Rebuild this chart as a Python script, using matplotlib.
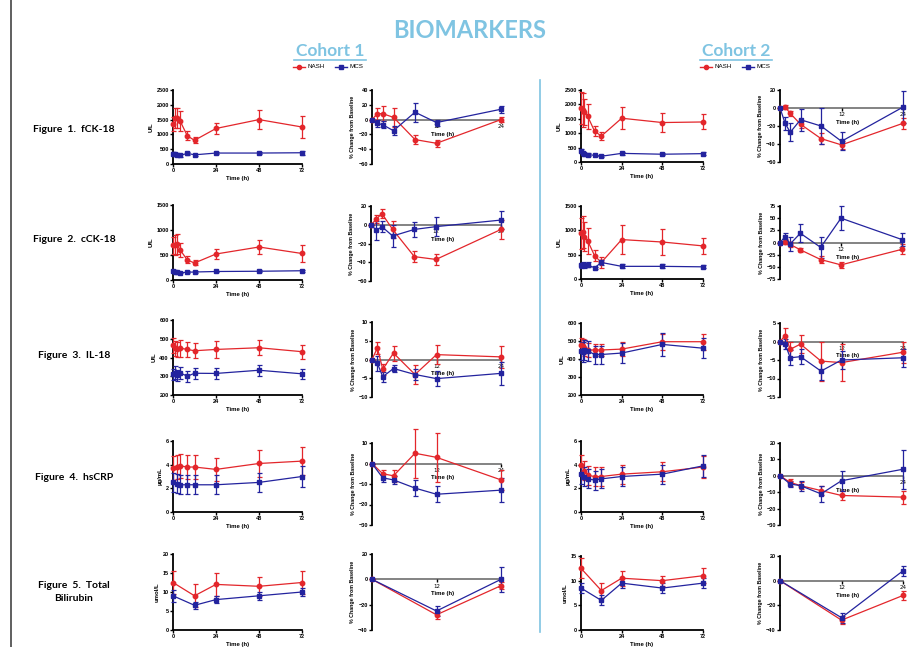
import matplotlib
matplotlib.use('Agg')
import matplotlib.pyplot as plt

W, H = 921, 647
fig = plt.figure(figsize=(9.21, 6.47), dpi=100)

RED = '#E3262B'
BLUE = '#23239E'
TBLUE = '#7FC4E2'
TF = 'Liberation Sans'

# ---------------- data ----------------
t_abs = [0, 1, 2, 4, 8, 12, 24, 48, 72]
t_pct = [0, 1, 2, 4, 8, 12, 24]

# Figure 1 fCK-18
c1_fck_nash = [1350, 1550, 1550, 1450, 950, 800, 1200, 1500, 1250]
c1_fck_nash_e = [250, 350, 350, 350, 150, 100, 170, 320, 380]
c1_fck_mcs = [350, 330, 310, 290, 360, 310, 370, 370, 380]
c1_fck_mcs_e = [50, 50, 40, 40, 40, 30, 40, 40, 60]
c1_fckp_nash = [0, 8, 8, 3, -27, -32, 0]
c1_fckp_nash_e = [0, 8, 10, 13, 6, 5, 3]
c1_fckp_mcs = [0, -5, -7, -15, 10, -4, 14]
c1_fckp_mcs_e = [0, 5, 5, 6, 13, 4, 5]
c2_fck_nash = [1870, 1800, 1750, 1580, 1070, 900, 1520, 1370, 1390]
c2_fck_nash_e = [550, 600, 450, 420, 180, 150, 380, 330, 260]
c2_fck_mcs = [380, 300, 270, 260, 230, 200, 300, 270, 290]
c2_fck_mcs_e = [60, 60, 50, 40, 30, 30, 60, 30, 40]
c2_fckp_nash = [0, 1, -6, -18, -34, -41, -17]
c2_fckp_nash_e = [0, 2, 3, 4, 6, 4, 6]
c2_fckp_mcs = [0, -17, -27, -13, -20, -37, 1]
c2_fckp_mcs_e = [0, 7, 10, 12, 20, 10, 18]

# Figure 2 cCK-18
c1_cck_nash = [690, 700, 720, 600, 400, 340, 520, 660, 530]
c1_cck_nash_e = [170, 200, 200, 140, 70, 50, 100, 140, 170]
c1_cck_mcs = [170, 165, 160, 145, 155, 160, 170, 175, 185]
c1_cck_mcs_e = [20, 20, 20, 15, 15, 15, 15, 15, 20]
c1_cckp_nash = [0, 6, 12, -5, -34, -37, -5]
c1_cckp_nash_e = [0, 4, 5, 9, 6, 6, 10]
c1_cckp_mcs = [0, -6, -2, -12, -5, -2, 5]
c1_cckp_mcs_e = [0, 10, 6, 12, 8, 10, 10]
c2_cck_nash = [940, 960, 870, 780, 480, 340, 810, 760, 680]
c2_cck_nash_e = [320, 330, 300, 270, 120, 120, 300, 260, 170]
c2_cck_mcs = [280, 290, 280, 290, 230, 340, 260, 260, 250]
c2_cck_mcs_e = [50, 50, 50, 50, 20, 60, 40, 40, 30]
c2_cckp_nash = [0, 2, -4, -15, -35, -46, -14]
c2_cckp_nash_e = [0, 5, 5, 4, 8, 6, 10]
c2_cckp_mcs = [0, 12, -3, 19, -10, 50, 6]
c2_cckp_mcs_e = [0, 7, 15, 18, 22, 24, 13]

# Figure 3 IL-18
c1_il_nash = [465, 450, 445, 450, 443, 436, 443, 452, 431]
c1_il_nash_e = [40, 40, 40, 45, 40, 40, 45, 40, 38]
c1_il_mcs = [310, 320, 305, 318, 300, 316, 315, 332, 313]
c1_il_mcs_e = [30, 35, 30, 30, 30, 30, 30, 30, 25]
c1_ilp_nash = [0, 3.1, -2.6, 1.7, -4.0, 1.3, 0.7]
c1_ilp_nash_e = [0, 1.5, 1.5, 2, 2.5, 2.5, 3]
c1_ilp_mcs = [0, -1.0, -4.6, -2.4, -4.0, -5.1, -3.7]
c1_ilp_mcs_e = [0, 2, 1.3, 1, 1.5, 2, 3]
c2_il_nash = [480, 470, 460, 450, 450, 450, 455, 496, 496]
c2_il_nash_e = [35, 40, 45, 40, 35, 35, 40, 45, 45]
c2_il_mcs = [445, 440, 450, 445, 425, 425, 433, 481, 460]
c2_il_mcs_e = [50, 55, 55, 55, 50, 50, 55, 65, 55]
c2_ilp_nash = [0, 1.6, -2.1, -0.7, -5.3, -5.7, -2.9]
c2_ilp_nash_e = [0, 2, 2, 2.5, 5.3, 5, 2.9]
c2_ilp_mcs = [0, -0.7, -4.4, -4.1, -8.0, -5.0, -4.4]
c2_ilp_mcs_e = [0, 1.3, 2, 2, 2.5, 2.5, 2.5]

# Figure 4 hsCRP
t_crp_abs = [0, 2, 4, 8, 12, 24, 48, 72]
t_crp_pct = [0, 2, 4, 8, 12, 24]
c1_crp_nash = [3.7, 3.8, 3.9, 3.8, 3.8, 3.6, 4.1, 4.3]
c1_crp_nash_e = [1.0, 1.0, 1.0, 1.0, 1.0, 1.0, 1.1, 1.2]
c1_crp_mcs = [2.5, 2.4, 2.3, 2.3, 2.3, 2.3, 2.5, 3.0]
c1_crp_mcs_e = [0.8, 0.8, 0.8, 0.8, 0.8, 0.8, 0.8, 0.9]
c1_crpp_nash = [0, -5, -6, 5, 3, -8]
c1_crpp_nash_e = [0, 2, 3, 12, 12, 5]
c1_crpp_mcs = [0, -7, -8, -12, -15, -13]
c1_crpp_mcs_e = [0, 2, 2, 4, 4, 6]
c2_crp_nash = [4.0, 3.5, 3.1, 3.0, 3.0, 3.2, 3.4, 3.8]
c2_crp_nash_e = [0.8, 0.8, 0.8, 0.8, 0.8, 0.8, 0.8, 0.9]
c2_crp_mcs = [3.2, 3.0, 2.8, 2.7, 2.8, 3.0, 3.2, 3.9]
c2_crp_mcs_e = [0.8, 0.8, 0.8, 0.8, 0.8, 0.8, 0.8, 0.9]
c2_crpp_nash = [0, -4, -6, -9, -12, -13]
c2_crpp_nash_e = [0, 2, 2, 3, 3, 4]
c2_crpp_mcs = [0, -5, -6, -11, -3, 4]
c2_crpp_mcs_e = [0, 2, 3, 5, 6, 12]

# Figure 5 Total bilirubin
t_bil_abs = [0, 12, 24, 48, 72]
t_bil_pct = [0, 12, 24]
c1_bil_nash = [12.5, 9.0, 12.0, 11.5, 12.5]
c1_bil_nash_e = [3, 3, 3, 2.5, 3]
c1_bil_mcs = [9.0, 6.5, 8.0, 9.0, 10.0]
c1_bil_mcs_e = [1.5, 1, 1, 1, 1]
c1_bilp_nash = [0, -28, -5]
c1_bilp_nash_e = [0, 3, 3]
c1_bilp_mcs = [0, -25, 0]
c1_bilp_mcs_e = [0, 4, 10]
c2_bil_nash = [12.5, 8.0, 10.5, 10.0, 11.0]
c2_bil_nash_e = [2, 1.5, 1.5, 1, 1.5]
c2_bil_mcs = [8.5, 6.0, 9.5, 8.5, 9.5]
c2_bil_mcs_e = [1, 1, 1, 1, 1]
c2_bilp_nash = [0, -32, -12]
c2_bilp_nash_e = [0, 3, 4]
c2_bilp_mcs = [0, -30, 8]
c2_bilp_mcs_e = [0, 4, 4]

row_labels = ['Figure  1.  fCK-18', 'Figure  2.  cCK-18', 'Figure  3.  IL-18',
              'Figure  4.  hsCRP', 'Figure  5.  Total\nBilirubin']
abs_units = ['U/L', 'U/L', 'U/L', 'µg/mL', 'umol/L']
# ---------------------------------------

def px_axes(x0, x1, y0, y1):
    return fig.add_axes([x0 / W, 1 - y1 / H, (x1 - x0) / W, (y1 - y0) / H])

def style(ax):
    for s in ('top', 'right'):
        ax.spines[s].set_visible(False)
    for s in ('left', 'bottom'):
        ax.spines[s].set_linewidth(1.3)
    ax.tick_params(length=2, width=1, pad=1, labelsize=4)
    for lab in ax.get_xticklabels() + ax.get_yticklabels():
        lab.set_fontweight('bold')
        lab.set_family(TF)
    ax.patch.set_alpha(0)

def series(ax, t, v, e, color, marker):
    ax.errorbar(t, v, yerr=e, color=color, marker=marker, ms=3.2, lw=0.9,
                capsize=1.8, elinewidth=0.9, capthick=0.9, zorder=3)
    for a in ax.get_children():
        try:
            a.set_clip_on(False)
        except Exception:
            pass

def abs_panel(box, t, r, re, b, be, ylim, yticks, ylabel):
    ax = px_axes(*box)
    series(ax, t, r, re, RED, 'o')
    series(ax, t, b, be, BLUE, 's')
    ax.set_xlim(0, 72)
    ax.set_xticks([0, 24, 48, 72])
    ax.set_ylim(*ylim)
    ax.set_yticks(yticks)
    style(ax)
    ax.set_xlabel('Time (h)', fontsize=4.3, fontweight='bold', family=TF, labelpad=2)
    ax.set_ylabel(ylabel, fontsize=4.3, fontweight='bold', family=TF, labelpad=2)
    return ax

def pct_panel(box, t, r, re, b, be, ylim, yticks):
    ax = px_axes(*box)
    series(ax, t, r, re, RED, 'o')
    series(ax, t, b, be, BLUE, 's')
    ax.set_xlim(0, 24)
    ax.set_xticks([12, 24])
    ax.set_ylim(*ylim)
    ax.set_yticks(yticks)
    style(ax)
    ax.spines['bottom'].set_position(('data', 0))
    ax.spines['bottom'].set_color('#7a7a7a')
    ax.spines['bottom'].set_linewidth(1.3)
    ax.spines['bottom'].set_zorder(1)
    ax.set_xlabel('Time (h)', fontsize=4.3, fontweight='bold', family=TF, labelpad=1)
    hpx = (box[3] - box[2])
    ax.xaxis.set_label_coords(0.55, (0 - ylim[0]) / (ylim[1] - ylim[0]) - 12.0 / hpx)
    ax.set_ylabel('% Change from Baseline', fontsize=3.8, fontweight='bold', family=TF, labelpad=2)
    return ax

# Row 1
abs_panel((173, 302, 90, 164), t_abs, c1_fck_nash, c1_fck_nash_e, c1_fck_mcs, c1_fck_mcs_e,
          (0, 2500), [0, 500, 1000, 1500, 2000, 2500], abs_units[0])
pct_panel((372, 501, 90, 164), t_pct, c1_fckp_nash, c1_fckp_nash_e, c1_fckp_mcs, c1_fckp_mcs_e,
          (-60, 40), [-60, -40, -20, 0, 20, 40])
abs_panel((581, 703, 90, 162), t_abs, c2_fck_nash, c2_fck_nash_e, c2_fck_mcs, c2_fck_mcs_e,
          (0, 2500), [0, 500, 1000, 1500, 2000, 2500], abs_units[0])
pct_panel((780, 903, 90, 162), t_pct, c2_fckp_nash, c2_fckp_nash_e, c2_fckp_mcs, c2_fckp_mcs_e,
          (-60, 20), [-60, -40, -20, 0, 20])
# Row 2
abs_panel((173, 302, 205, 280), t_abs, c1_cck_nash, c1_cck_nash_e, c1_cck_mcs, c1_cck_mcs_e,
          (0, 1500), [0, 500, 1000, 1500], abs_units[1])
pct_panel((371, 501, 206, 281), t_pct, c1_cckp_nash, c1_cckp_nash_e, c1_cckp_mcs, c1_cckp_mcs_e,
          (-60, 20), [-60, -40, -20, 0, 20])
abs_panel((581, 703, 206, 279), t_abs, c2_cck_nash, c2_cck_nash_e, c2_cck_mcs, c2_cck_mcs_e,
          (0, 1500), [0, 500, 1000, 1500], abs_units[1])
pct_panel((780, 902, 206, 279), t_pct, c2_cckp_nash, c2_cckp_nash_e, c2_cckp_mcs, c2_cckp_mcs_e,
          (-75, 75), [-75, -50, -25, 0, 25, 50, 75])
# Row 3
abs_panel((173, 302, 320, 395), t_abs, c1_il_nash, c1_il_nash_e, c1_il_mcs, c1_il_mcs_e,
          (200, 600), [200, 300, 400, 500, 600], abs_units[2])
pct_panel((372, 501, 322, 397), t_pct, c1_ilp_nash, c1_ilp_nash_e, c1_ilp_mcs, c1_ilp_mcs_e,
          (-10, 10), [-10, -5, 0, 5, 10])
abs_panel((581, 703, 323, 395), t_abs, c2_il_nash, c2_il_nash_e, c2_il_mcs, c2_il_mcs_e,
          (200, 600), [200, 300, 400, 500, 600], abs_units[2])
pct_panel((780, 903, 323, 397), t_pct, c2_ilp_nash, c2_ilp_nash_e, c2_ilp_mcs, c2_ilp_mcs_e,
          (-15, 5), [-15, -10, -5, 0, 5])
# Row 4
abs_panel((173, 302, 441, 512), t_crp_abs, c1_crp_nash, c1_crp_nash_e, c1_crp_mcs, c1_crp_mcs_e,
          (0, 6), [0, 2, 4, 6], abs_units[3])
pct_panel((372, 501, 443, 525), t_crp_pct, c1_crpp_nash, c1_crpp_nash_e, c1_crpp_mcs, c1_crpp_mcs_e,
          (-30, 10), [-30, -20, -10, 0, 10])
abs_panel((581, 703, 441, 512), t_crp_abs, c2_crp_nash, c2_crp_nash_e, c2_crp_mcs, c2_crp_mcs_e,
          (0, 6), [0, 2, 4, 6], abs_units[3])
pct_panel((780, 903, 443, 525), t_crp_pct, c2_crpp_nash, c2_crpp_nash_e, c2_crpp_mcs, c2_crpp_mcs_e,
          (-30, 20), [-30, -20, -10, 0, 10, 20])
# Row 5
abs_panel((173, 302, 554, 630), t_bil_abs, c1_bil_nash, c1_bil_nash_e, c1_bil_mcs, c1_bil_mcs_e,
          (0, 20), [0, 5, 10, 15, 20], abs_units[4])
pct_panel((372, 501, 554, 630), t_bil_pct, c1_bilp_nash, c1_bilp_nash_e, c1_bilp_mcs, c1_bilp_mcs_e,
          (-40, 20), [-40, -20, 0, 20])
abs_panel((581, 703, 556, 630), t_bil_abs, c2_bil_nash, c2_bil_nash_e, c2_bil_mcs, c2_bil_mcs_e,
          (0, 15), [0, 5, 10, 15], abs_units[4])
pct_panel((780, 903, 556, 630), t_bil_pct, c2_bilp_nash, c2_bilp_nash_e, c2_bilp_mcs, c2_bilp_mcs_e,
          (-40, 20), [-40, -20, 0, 20])

# ---------------- overlay (pixel coords) ----------------
ov = fig.add_axes([0, 0, 1, 1], zorder=-1)
ov.set_xlim(0, W)
ov.set_ylim(H, 0)
ov.axis('off')

ov.plot([11, 11], [0, H], color='#444444', lw=1.2)
ov.plot([540, 540], [80, 632], color=TBLUE, lw=1.2)

ov.text(470, 30, 'BIOMARKERS', ha='center', va='center', fontsize=17,
        fontweight='bold', color=TBLUE, family='Lato')
for cx, txt in ((330, 'Cohort 1'), (736, 'Cohort 2')):
    ov.text(cx, 51, txt, ha='center', va='center', fontsize=12.5,
            fontweight='bold', color=TBLUE, family='Lato')
    ov.plot([cx - 36, cx + 36], [60, 60], color=TBLUE, lw=1.2)

for x0 in (293, 700):
    ov.plot([x0, x0 + 12], [67, 67], color=RED, lw=1)
    ov.plot([x0 + 6], [67], color=RED, marker='o', ms=3)
    ov.text(x0 + 14, 67, 'NASH', fontsize=4.5, va='center', color='black', family=TF)
    ov.plot([x0 + 42, x0 + 54], [67, 67], color=BLUE, lw=1)
    ov.plot([x0 + 48], [67], color=BLUE, marker='s', ms=3)
    ov.text(x0 + 56, 67, 'MCS', fontsize=4.5, va='center', color='black', family=TF)

row_y = [130, 240, 355, 478, 592]
for y, lab in zip(row_y, row_labels):
    ov.text(74, y, lab, ha='center', va='center', fontsize=7.5, fontweight='bold',
            family='Lato', linespacing=1.6)

fig.savefig('out.png', dpi=100)
